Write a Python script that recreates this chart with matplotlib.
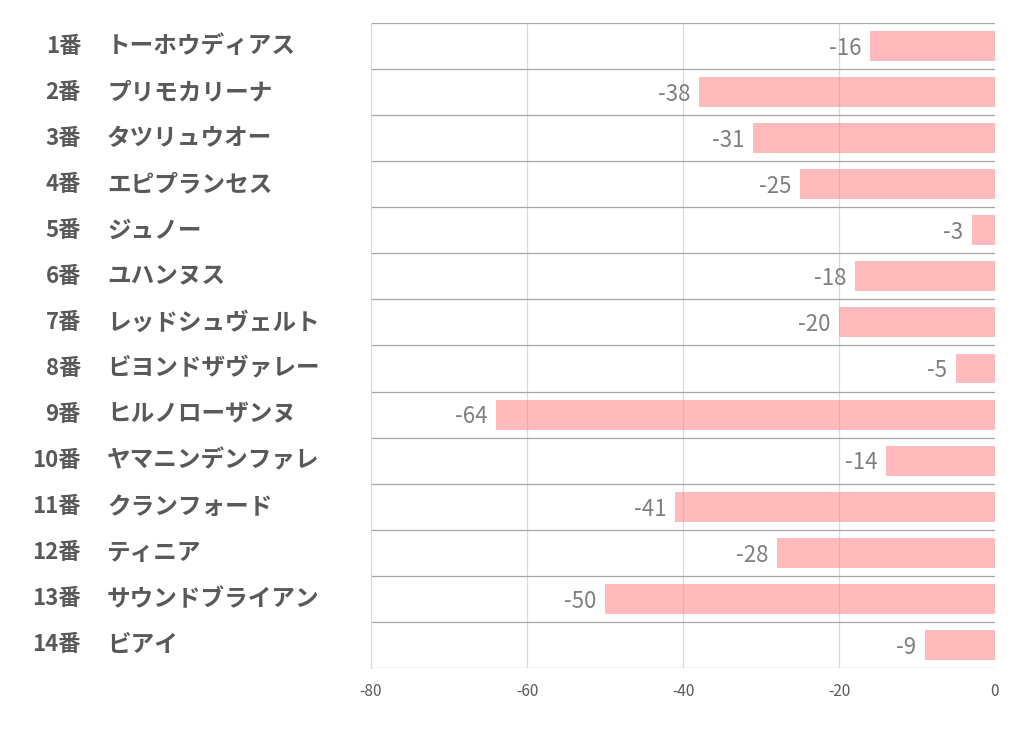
import matplotlib
matplotlib.use("Agg")
import matplotlib.pyplot as plt

plt.rcParams['font.family'] = ['Noto Sans CJK JP', 'DejaVu Sans']

# data
numbers = ["1番", "2番", "3番", "4番", "5番", "6番", "7番", "8番", "9番",
           "10番", "11番", "12番", "13番", "14番"]
names = ["トーホウディアス", "プリモカリーナ", "タツリュウオー", "エピプランセス",
         "ジュノー", "ユハンヌス", "レッドシュヴェルト", "ビヨンドザヴァレー",
         "ヒルノローザンヌ", "ヤマニンデンファレ", "クランフォード", "ティニア",
         "サウンドブライアン", "ビアイ"]
values = [-16, -38, -31, -25, -3, -18, -20, -5, -64, -14, -41, -28, -50, -9]
xticks = [-80, -60, -40, -20, 0]

fig = plt.figure(figsize=(10.22, 7.3), dpi=100)
ax = fig.add_axes([0.363, 0.085, 0.6105, 0.8835])

n = len(values)
ypos = list(range(n))
ax.barh(ypos, values, height=0.65, color='#FF8C8F', alpha=0.6, zorder=3)

for y, v in zip(ypos, values):
    ax.text(v - 1.1, y + 0.05, str(v), ha='right', va='center', fontsize=16,
            color='#7F7F7F', zorder=4)

ax.set_xlim(-80, 0)
ax.set_ylim(n - 0.5, -0.5)

# vertical grid
for t in xticks[1:-1]:
    ax.axvline(t, color='#D9D9D9', lw=0.9, zorder=1)
# row separators
for b in range(n + 1):
    ax.axhline(b - 0.5, color='#A6A6A6', lw=0.9, zorder=2)

for s in ['top', 'right', 'bottom']:
    ax.spines[s].set_visible(False)
ax.spines['left'].set_color('#D9D9D9')
ax.spines['left'].set_linewidth(0.9)

ax.set_yticks([])
ax.set_xticks(xticks)
ax.set_xticklabels([str(t) for t in xticks])
ax.tick_params(axis='x', length=0, pad=11, labelsize=11, labelcolor='#595959')

# left labels
for y, num, name in zip(ypos, numbers, names):
    ax.annotate(num, xy=(0, y), xycoords=('figure fraction', 'data'),
                xytext=(81, 0), textcoords='offset pixels', ha='right', va='center',
                fontsize=16, fontweight='bold', color='#595959')
    ax.annotate(name, xy=(0, y), xycoords=('figure fraction', 'data'),
                xytext=(107, 0), textcoords='offset pixels', ha='left', va='center',
                fontsize=17, fontweight='bold', color='#595959')

fig.savefig("out.png", dpi=100)
